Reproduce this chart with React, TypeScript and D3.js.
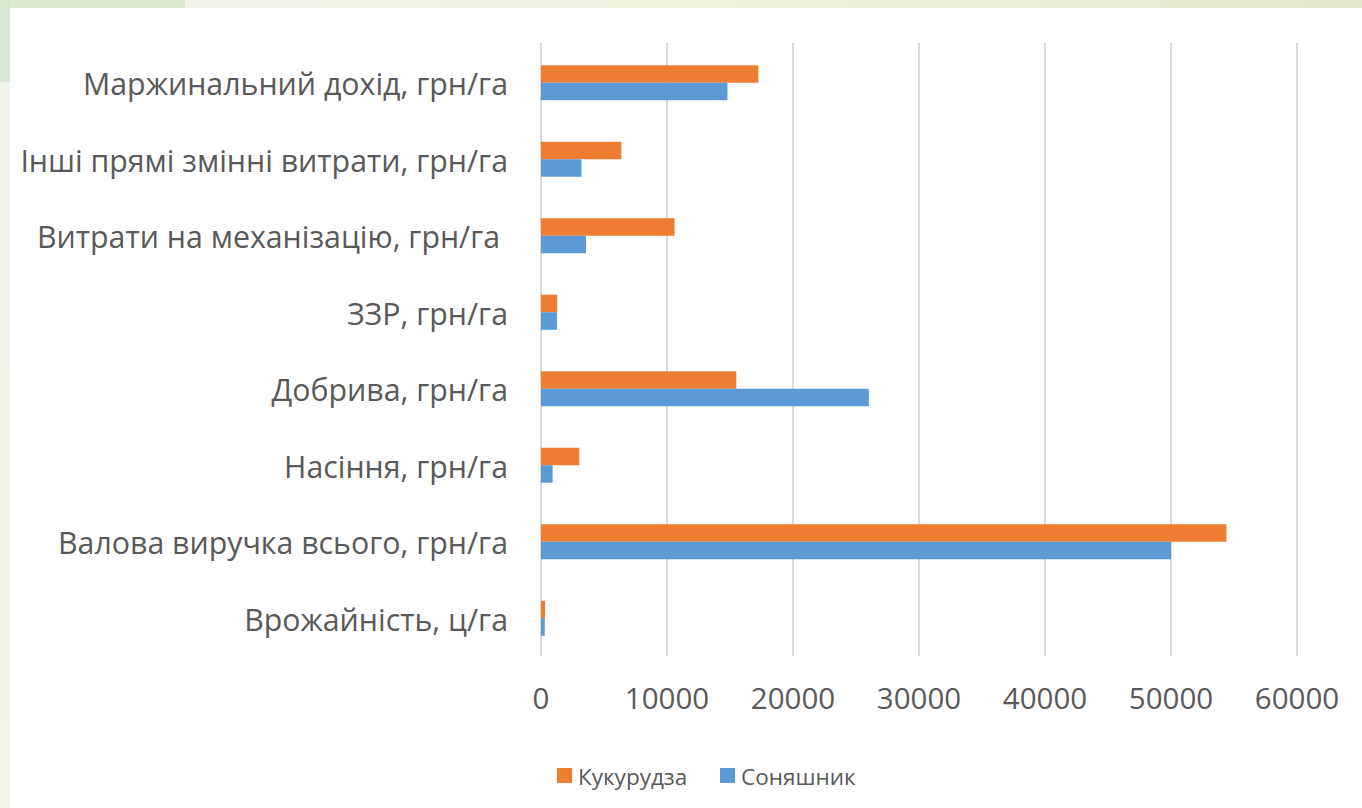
import React from "react";
import * as d3 from "d3";

const categories = [
  "Врожайність, ц/га",
  "Валова виручка всього, грн/га",
  "Насіння, грн/га",
  "Добрива, грн/га",
  "ЗЗР, грн/га",
  "Витрати на механізацію, грн/га ",
  "Інші прямі змінні витрати, грн/га",
  "Маржинальний дохід, грн/га",
];
const seriesNames = ["Кукурудза", "Соняшник"];
const corn = [320, 54400, 3040, 15500, 1290, 10600, 6380, 17250];
const sunflower = [300, 50000, 920, 26020, 1270, 3570, 3210, 14800];
const xTicks = [0, 10000, 20000, 30000, 40000, 50000, 60000];
const colors = ["#ED7D31", "#5B9BD5"];

const W = 1362;
const H = 808;
const FONT = "'Open Sans', 'Noto Sans', sans-serif";
const TEXT = "#595959";

export default function App() {
  const x = d3.scaleLinear().domain([0, 60000]).range([541, 1297]);
  const y = d3
    .scaleBand<string>()
    .domain([...categories].reverse())
    .range([44.5, 656.5])
    .paddingInner(0.5425)
    .paddingOuter(0.27125);
  const sub = d3.scaleBand<string>().domain(seriesNames).range([0, y.bandwidth()]);
  const values = [corn, sunflower];

  return (
    <svg
      width={W}
      height={H}
      style={{ position: "absolute", left: 0, top: 0, display: "block" }}
      fontFamily={FONT}
    >
      <defs>
        <linearGradient id="topStrip" x1="0" x2="1" y1="0" y2="0">
          <stop offset="0" stopColor="#f1f4ec" />
          <stop offset="0.5" stopColor="#eef1df" />
          <stop offset="1" stopColor="#e3eacb" />
        </linearGradient>
        <linearGradient id="leftStrip" x1="0" x2="0" y1="0" y2="1">
          <stop offset="0" stopColor="#eef2e8" />
          <stop offset="1" stopColor="#f1f5e6" />
        </linearGradient>
      </defs>
      <rect x={0} y={0} width={W} height={H} fill="#ffffff" />
      <rect x={0} y={0} width={W} height={8} fill="url(#topStrip)" />
      <rect x={0} y={0} width={10} height={H} fill="url(#leftStrip)" />
      <rect x={0} y={0} width={185} height={8} fill="#dbe8d4" />
      <rect x={0} y={0} width={10} height={82} fill="#d6e6d0" />

      {xTicks.map((t) => (
        <line
          key={"g" + t}
          x1={x(t)}
          x2={x(t)}
          y1={43}
          y2={656}
          stroke="#d9d9d9"
          strokeWidth={2}
        />
      ))}

      {categories.map((c, i) => (
        <g key={c} transform={`translate(0,${y(c)})`}>
          {seriesNames.map((s, k) => (
            <rect
              key={s}
              x={x(0)}
              y={sub(s)}
              width={x(values[k][i]) - x(0)}
              height={sub.bandwidth()}
              fill={colors[k]}
            />
          ))}
        </g>
      ))}

      {categories.map((c) => (
        <text
          key={"l" + c}
          x={508}
          y={(y(c) as number) + y.bandwidth() / 2 + 1}
          textAnchor="end"
          dominantBaseline="central"
          fontSize={30.3}
          fill={TEXT}
          style={{ whiteSpace: "pre" }}
        >
          {c}
        </text>
      ))}

      {xTicks.map((t) => (
        <text
          key={"t" + t}
          x={x(t)}
          y={697}
          textAnchor="middle"
          dominantBaseline="central"
          fontSize={29.5}
          fill={TEXT}
        >
          {t}
        </text>
      ))}

      {seriesNames.map((s, k) => {
        const lx = [557, 720][k];
        return (
          <g key={"lg" + s}>
            <rect x={lx} y={768} width={15} height={15} fill={colors[k]} />
            <text
              x={lx + 21}
              y={776}
              dominantBaseline="central"
              fontSize={22.5}
              fill={TEXT}
            >
              {s}
            </text>
          </g>
        );
      })}
    </svg>
  );
}
